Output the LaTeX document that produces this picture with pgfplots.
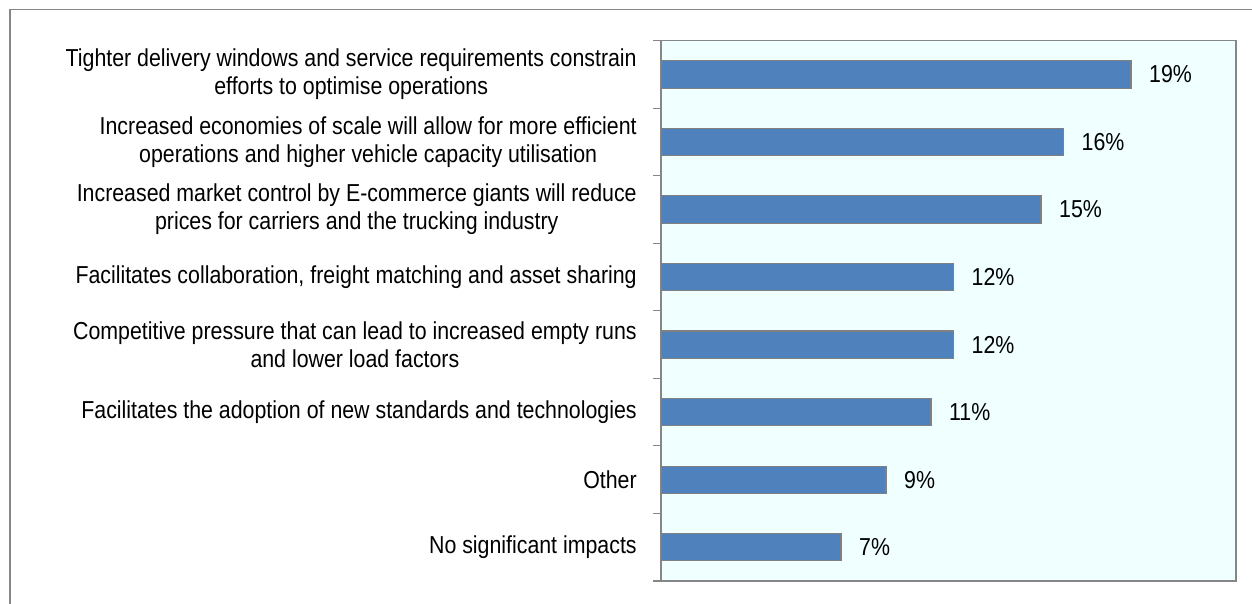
\documentclass[border=0pt]{standalone}
\usepackage{fontspec}
\setmainfont{Liberation Sans}[FakeStretch=0.87]
\usepackage{pgfplots}
\pgfplotsset{compat=1.18}
\definecolor{barblue}{RGB}{79,129,189}
\definecolor{plotbg}{RGB}{240,255,255}
\definecolor{framegrey}{RGB}{134,134,134}
\begin{document}
\begin{tikzpicture}
\path[use as bounding box] (0,0) rectangle (939pt,452.25pt);
% outer chart frame (cut off on the right and at the bottom)
\draw[framegrey, line width=1.2pt] (7.5pt,-5pt) -- (7.5pt,445pt) -- (945pt,445pt);
\begin{axis}[
  at={(495.75pt,16.5pt)}, anchor=south west,
  scale only axis, width=431.25pt, height=405.2pt,
  xbar, bar width=20.5pt,
  xmin=0, xmax=23, ymin=0.5, ymax=8.5, y dir=reverse,
  xtick=\empty,
  ytick={1,...,8},
  yticklabels={
    {Tighter delivery windows and service requirements constrain\\efforts to optimise operations},
    {Increased economies of scale will allow for more efficient\\operations and higher vehicle capacity utilisation},
    {Increased market control by E-commerce giants will reduce\\prices for carriers and the trucking industry},
    {Facilitates collaboration, freight matching and asset sharing},
    {Competitive pressure that can lead to increased empty runs\\and lower load factors},
    {Facilitates the adoption of new standards and technologies},
    {Other},
    {No significant impacts}},
  minor ytick={0.5,1.5,...,8.5},
  major tick length=0pt, minor tick length=6pt, tick align=outside, ytick pos=left,
  tick style={framegrey, line width=0.8pt},
  axis line style={framegrey, line width=1pt},
  axis background/.style={fill=plotbg},
  yticklabel style={align=center, font=\fontsize{18.4}{21}\selectfont, xshift=-14.7pt},
  /pgf/number format/assume math mode=true,
  nodes near coords={\pgfmathprintnumber[fixed,precision=0]{\pgfplotspointmeta}\%},
  nodes near coords style={font=\fontsize{18.4}{21}\selectfont, anchor=west, inner sep=0pt, xshift=13.2pt, black},
]
\addplot[fill=barblue, draw=gray, line width=0.8pt] coordinates {
  (18.8,1) (16.1,2) (15.2,3) (11.7,4) (11.7,5) (10.8,6) (9.0,7) (7.2,8)};
\end{axis}
\end{tikzpicture}
\end{document}
